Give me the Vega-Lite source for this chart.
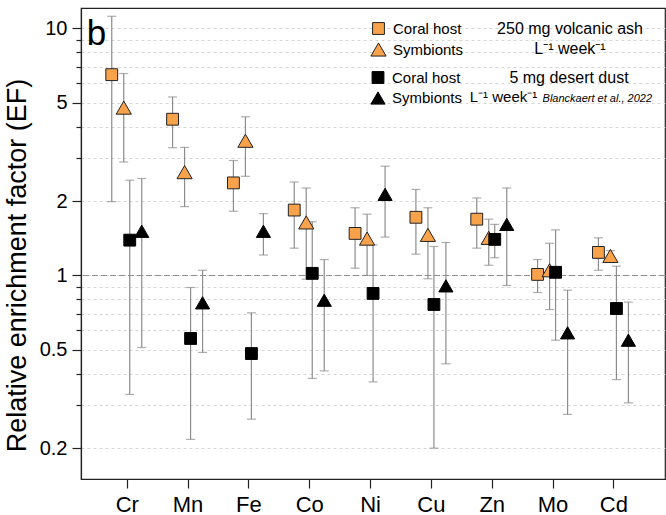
{
  "$schema": "https://vega.github.io/schema/vega-lite/v6.json",
  "autosize": "none",
  "width": 584,
  "height": 471,
  "padding": {"left": 81, "top": 8, "right": 1, "bottom": 36},
  "background": "white",
  "config": {
    "font": "Liberation Sans",
    "view": {"stroke": "#222", "strokeWidth": 1.2},
    "axis": {"labelColor": "black", "titleColor": "black", "domainColor": "#222", "tickColor": "#222", "labelFont": "Liberation Sans", "titleFont": "Liberation Sans"},
    "legend": {"labelFont": "Liberation Sans", "titleFont": "Liberation Sans"}
  },
  "data": {"values": [
    {"el": "Cr", "grp": "ash", "org": "Coral host", "s": "ash host", "v": 6.5, "lo": 1.99, "hi": 11.2},
    {"el": "Cr", "grp": "ash", "org": "Symbionts", "s": "ash sym", "v": 4.78, "lo": 2.88, "hi": 6.57},
    {"el": "Cr", "grp": "dust", "org": "Coral host", "s": "dust host", "v": 1.39, "lo": 0.33, "hi": 2.43},
    {"el": "Cr", "grp": "dust", "org": "Symbionts", "s": "dust sym", "v": 1.51, "lo": 0.511, "hi": 2.47},
    {"el": "Mn", "grp": "ash", "org": "Coral host", "s": "ash host", "v": 4.29, "lo": 3.29, "hi": 5.28},
    {"el": "Mn", "grp": "ash", "org": "Symbionts", "s": "ash sym", "v": 2.62, "lo": 1.9, "hi": 3.3},
    {"el": "Mn", "grp": "dust", "org": "Coral host", "s": "dust host", "v": 0.556, "lo": 0.217, "hi": 0.894},
    {"el": "Mn", "grp": "dust", "org": "Symbionts", "s": "dust sym", "v": 0.775, "lo": 0.488, "hi": 1.05},
    {"el": "Fe", "grp": "ash", "org": "Coral host", "s": "ash host", "v": 2.37, "lo": 1.82, "hi": 2.92},
    {"el": "Fe", "grp": "ash", "org": "Symbionts", "s": "ash sym", "v": 3.51, "lo": 2.52, "hi": 4.39},
    {"el": "Fe", "grp": "dust", "org": "Coral host", "s": "dust host", "v": 0.483, "lo": 0.262, "hi": 0.706},
    {"el": "Fe", "grp": "dust", "org": "Symbionts", "s": "dust sym", "v": 1.51, "lo": 1.21, "hi": 1.78},
    {"el": "Co", "grp": "ash", "org": "Coral host", "s": "ash host", "v": 1.84, "lo": 1.29, "hi": 2.39},
    {"el": "Co", "grp": "ash", "org": "Symbionts", "s": "ash sym", "v": 1.64, "lo": 0.966, "hi": 2.26},
    {"el": "Co", "grp": "dust", "org": "Coral host", "s": "dust host", "v": 1.02, "lo": 0.383, "hi": 1.65},
    {"el": "Co", "grp": "dust", "org": "Symbionts", "s": "dust sym", "v": 0.794, "lo": 0.411, "hi": 1.16},
    {"el": "Ni", "grp": "ash", "org": "Coral host", "s": "ash host", "v": 1.48, "lo": 1.07, "hi": 1.88},
    {"el": "Ni", "grp": "ash", "org": "Symbionts", "s": "ash sym", "v": 1.41, "lo": 1.0, "hi": 1.77},
    {"el": "Ni", "grp": "dust", "org": "Coral host", "s": "dust host", "v": 0.846, "lo": 0.371, "hi": 1.33},
    {"el": "Ni", "grp": "dust", "org": "Symbionts", "s": "dust sym", "v": 2.13, "lo": 1.43, "hi": 2.77},
    {"el": "Cu", "grp": "ash", "org": "Coral host", "s": "ash host", "v": 1.72, "lo": 1.22, "hi": 2.23},
    {"el": "Cu", "grp": "ash", "org": "Symbionts", "s": "ash sym", "v": 1.46, "lo": 0.97, "hi": 1.88},
    {"el": "Cu", "grp": "dust", "org": "Coral host", "s": "dust host", "v": 0.763, "lo": 0.2, "hi": 1.31},
    {"el": "Cu", "grp": "dust", "org": "Symbionts", "s": "dust sym", "v": 0.908, "lo": 0.439, "hi": 1.36},
    {"el": "Zn", "grp": "ash", "org": "Coral host", "s": "ash host", "v": 1.69, "lo": 1.29, "hi": 2.06},
    {"el": "Zn", "grp": "ash", "org": "Symbionts", "s": "ash sym", "v": 1.42, "lo": 1.1, "hi": 1.69},
    {"el": "Zn", "grp": "dust", "org": "Coral host", "s": "dust host", "v": 1.4, "lo": 1.18, "hi": 1.61},
    {"el": "Zn", "grp": "dust", "org": "Symbionts", "s": "dust sym", "v": 1.61, "lo": 0.911, "hi": 2.26},
    {"el": "Mo", "grp": "ash", "org": "Coral host", "s": "ash host", "v": 1.01, "lo": 0.853, "hi": 1.16},
    {"el": "Mo", "grp": "ash", "org": "Symbionts", "s": "ash sym", "v": 1.05, "lo": 0.728, "hi": 1.35},
    {"el": "Mo", "grp": "dust", "org": "Coral host", "s": "dust host", "v": 1.03, "lo": 0.547, "hi": 1.53},
    {"el": "Mo", "grp": "dust", "org": "Symbionts", "s": "dust sym", "v": 0.586, "lo": 0.274, "hi": 0.872},
    {"el": "Cd", "grp": "ash", "org": "Coral host", "s": "ash host", "v": 1.24, "lo": 1.05, "hi": 1.42},
    {"el": "Cd", "grp": "ash", "org": "Symbionts", "s": "ash sym", "v": 1.2, "lo": 1.14, "hi": 1.26},
    {"el": "Cd", "grp": "dust", "org": "Coral host", "s": "dust host", "v": 0.735, "lo": 0.379, "hi": 1.09},
    {"el": "Cd", "grp": "dust", "org": "Symbionts", "s": "dust sym", "v": 0.547, "lo": 0.305, "hi": 0.78}
  ]},
  "encoding": {
    "x": {"field": "el", "type": "nominal",
      "scale": {"type": "point", "domain": ["Cr", "Mn", "Fe", "Co", "Ni", "Cu", "Zn", "Mo", "Cd"], "padding": 0.8, "align": 0.47},
      "axis": {"title": null, "labelFontSize": 22, "labelAngle": 0, "tickSize": 9, "tickWidth": 1.2, "domainWidth": 1.2, "labelPadding": 6, "grid": false}}
  },
  "layer": [
    {
      "mark": {"type": "rule", "color": "#8c8c8c", "strokeWidth": 1, "strokeDash": [6, 3]},
      "data": {"values": [{}]},
      "encoding": {
        "x": null,
        "y": {"datum": 1, "type": "quantitative",
          "scale": {"type": "log", "domain": [0.15, 12.1], "nice": false},
          "axis": {
            "title": "Relative enrichment factor (EF)", "titleFontSize": 27, "titleFontWeight": "normal",
            "titleX": -56, "titleY": 257, "titleBaseline": "alphabetic", "titleAlign": "center",
            "values": [0.2, 0.3, 0.4, 0.5, 0.6, 0.7, 0.8, 0.9, 1, 2, 3, 4, 5, 6, 7, 8, 9, 10],
            "labelExpr": "indexof([0.2,0.5,1,2,5,10], datum.value) >= 0 ? format(datum.value, '~g') : ''",
            "labelOverlap": false, "labelFontSize": 20, "labelPadding": 5,
            "tickSize": {"condition": {"test": "indexof([0.2,0.5,1,2,5,10], datum.value) >= 0", "value": 9}, "value": 5},
            "tickWidth": 1.2, "domainWidth": 1.2,
            "grid": true, "gridColor": "#d6d6d6", "gridDash": [3, 3], "gridWidth": 1
          }}
      }
    },
    {
      "mark": {"type": "rule", "color": "#8c8c8c", "strokeWidth": 1.2},
      "encoding": {
        "xOffset": {"field": "s", "type": "nominal", "scale": {"type": "point", "domain": ["ash host", "gap1", "ash sym", "dust host", "gap2", "dust sym"], "range": [-15, 15], "padding": 0}},
        "y": {"field": "lo", "type": "quantitative"},
        "y2": {"field": "hi"}
      }
    },
    {
      "mark": {"type": "tick", "color": "#8c8c8c", "size": 9, "thickness": 1.2},
      "encoding": {
        "xOffset": {"field": "s", "type": "nominal", "scale": {"type": "point", "domain": ["ash host", "gap1", "ash sym", "dust host", "gap2", "dust sym"], "range": [-15, 15], "padding": 0}},
        "y": {"field": "lo", "type": "quantitative"}
      }
    },
    {
      "mark": {"type": "tick", "color": "#8c8c8c", "size": 9, "thickness": 1.2},
      "encoding": {
        "xOffset": {"field": "s", "type": "nominal", "scale": {"type": "point", "domain": ["ash host", "gap1", "ash sym", "dust host", "gap2", "dust sym"], "range": [-15, 15], "padding": 0}},
        "y": {"field": "hi", "type": "quantitative"}
      }
    },
    {
      "transform": [{"filter": "datum.grp === 'ash'"}],
      "mark": {"type": "point", "filled": true, "stroke": "#222", "strokeWidth": 1, "opacity": 1},
      "encoding": {
        "xOffset": {"field": "s", "type": "nominal", "scale": {"type": "point", "domain": ["ash host", "gap1", "ash sym", "dust host", "gap2", "dust sym"], "range": [-15, 15], "padding": 0}},
        "y": {"field": "v", "type": "quantitative"},
        "color": {"field": "org", "type": "nominal", "scale": {"domain": ["Coral host", "Symbionts"], "range": ["#f9a24c", "#f9a24c"]},
          "legend": {"title": ["250 mg volcanic ash", "L⁻¹ week⁻¹"], "orient": "none", "legendX": 289, "legendY": 13,
            "titleOrient": "right", "titleAlign": "center", "titleAnchor": "start", "titleBaseline": "top",
            "titleFontSize": 16, "titleFontWeight": "normal", "titleLineHeight": 20, "titlePadding": 107, "titleColor": "black",
            "labelFontSize": 15, "labelColor": "black", "labelOffset": 6, "rowPadding": 3,
            "symbolStrokeColor": "#222", "symbolStrokeWidth": 1, "symbolOpacity": 1, "padding": 0}},
        "shape": {"field": "org", "type": "nominal", "scale": {"domain": ["Coral host", "Symbionts"], "range": ["square", "triangle-up"]}, "title": ["250 mg volcanic ash", "L⁻¹ week⁻¹"]},
        "size": {"field": "org", "type": "nominal", "scale": {"domain": ["Coral host", "Symbionts"], "range": [140, 230]}, "title": ["250 mg volcanic ash", "L⁻¹ week⁻¹"]}
      }
    },
    {
      "transform": [{"filter": "datum.grp === 'dust'"}],
      "mark": {"type": "point", "filled": true, "stroke": "black", "strokeWidth": 1, "opacity": 1},
      "encoding": {
        "xOffset": {"field": "s", "type": "nominal", "scale": {"type": "point", "domain": ["ash host", "gap1", "ash sym", "dust host", "gap2", "dust sym"], "range": [-15, 15], "padding": 0}},
        "y": {"field": "v", "type": "quantitative"},
        "color": {"field": "org", "type": "nominal", "scale": {"domain": ["Coral host", "Symbionts"], "range": ["black", "black"]},
          "legend": {"title": "5 mg desert dust", "orient": "none", "legendX": 289, "legendY": 62,
            "titleOrient": "right", "titleAlign": "center", "titleAnchor": "start", "titleBaseline": "top",
            "titleFontSize": 16, "titleFontWeight": "normal", "titleLineHeight": 20, "titlePadding": 107, "titleColor": "black",
            "labelFontSize": 15, "labelColor": "black", "labelOffset": 6, "rowPadding": 3,
            "symbolStrokeColor": "black", "symbolStrokeWidth": 1, "symbolOpacity": 1, "padding": 0}},
        "shape": {"field": "org", "type": "nominal", "scale": {"domain": ["Coral host", "Symbionts"], "range": ["square", "triangle-up"]}, "title": "5 mg desert dust"},
        "size": {"field": "org", "type": "nominal", "scale": {"domain": ["Coral host", "Symbionts"], "range": [140, 200]}, "title": "5 mg desert dust"}
      }
    },
    {
      "data": {"values": [{}]},
      "mark": {"type": "text", "text": "L⁻¹ week⁻¹", "fontSize": 15, "align": "left", "baseline": "alphabetic", "dx": -22, "color": "black"},
      "encoding": {"x": {"datum": "Zn", "type": "nominal"}, "y": {"datum": 5.05, "type": "quantitative"}}
    },
    {
      "data": {"values": [{}]},
      "mark": {"type": "text", "text": "Blanckaert et al., 2022", "fontSize": 11, "fontStyle": "italic", "align": "left", "baseline": "alphabetic", "dx": -10, "color": "black"},
      "encoding": {"x": {"datum": "Mo", "type": "nominal"}, "y": {"datum": 5.05, "type": "quantitative"}}
    },
    {
      "data": {"values": [{}]},
      "mark": {"type": "text", "text": "b", "fontSize": 35, "align": "left", "baseline": "alphabetic", "dx": -40, "color": "black"},
      "encoding": {"x": {"datum": "Cr", "type": "nominal"}, "y": {"datum": 8.56, "type": "quantitative"}}
    }
  ],
  "resolve": {"scale": {"color": "independent", "shape": "independent", "size": "independent"}}
}
